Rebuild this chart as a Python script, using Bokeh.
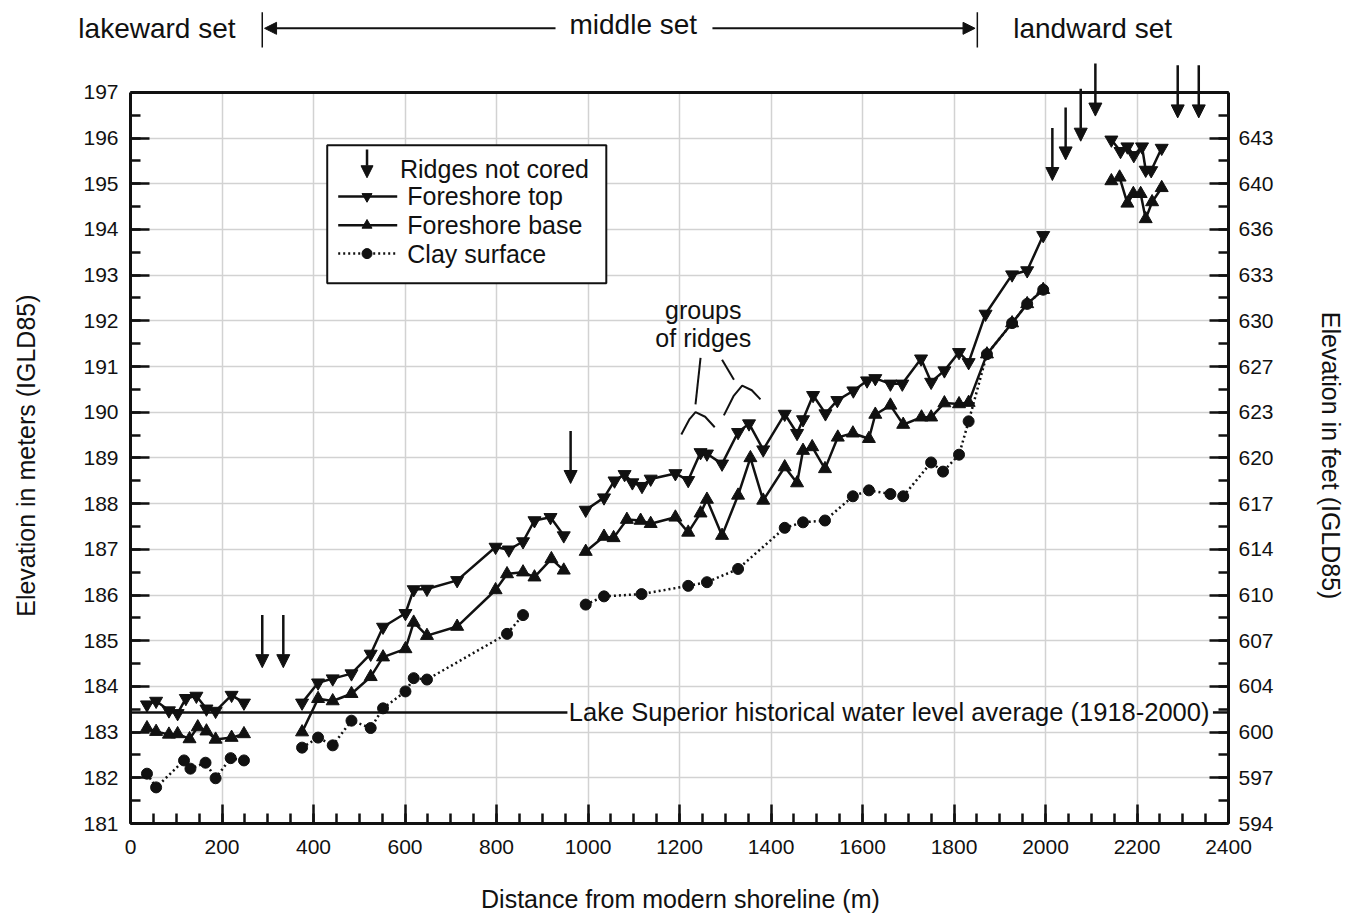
import math
from bokeh.plotting import figure
from bokeh.models import (Range1d, LinearAxis, FixedTicker, BoxAnnotation,
                          Label, Arrow, NormalHead, ColumnDataSource, Grid)
from bokeh.embed import file_html
from bokeh.resources import INLINE

NAN = float("nan")

# ---------------- data ----------------
TOP_X = [36, 56, 84, 103, 121, 144, 166, 186, 221, 248, NAN,
         375, 410, 442, 483, 525, 552, 601, 619, 648, 714, 798, 827, 858, 883, 918, 947, NAN,
         995, 1035, 1058, 1080, 1097, 1118, 1137, 1191, 1219, 1246, 1260, 1293, 1328, 1352,
         1383, 1430, 1457, 1470, 1492, 1519, 1545, 1580, 1610, 1628, 1661, 1687, 1728, 1750,
         1779, 1811, 1832, 1869, 1927, 1960, 1995, NAN,
         2144, 2164, 2179, 2193, 2211, 2219, 2231, 2254]
TOP_Y = [183.60, 183.68, 183.47, 183.41, 183.74, 183.79, 183.51, 183.46, 183.81, 183.64, NAN,
         183.64, 184.08, 184.17, 184.28, 184.71, 185.30, 185.60, 186.12, 186.13, 186.32, 187.05,
         186.99, 187.17, 187.63, 187.70, 187.30, NAN,
         187.86, 188.13, 188.50, 188.64, 188.46, 188.38, 188.54, 188.66, 188.51, 189.12, 189.09,
         188.87, 189.56, 189.75, 189.18, 189.96, 189.54, 189.84, 190.37, 189.97, 190.26, 190.47,
         190.69, 190.74, 190.62, 190.62, 191.17, 190.66, 190.91, 191.31, 191.09, 192.15, 193.01,
         193.10, 193.87, NAN,
         195.96, 195.71, 195.81, 195.62, 195.81, 195.30, 195.29, 195.78]

BASE_X = [36, 56, 84, 103, 129, 147, 166, 186, 221, 248, NAN,
          375, 410, 442, 483, 525, 552, 601, 619, 648, 714, 798, 823, 858, 883, 920, 947, NAN,
          995, 1035, 1056, 1085, 1115, 1137, 1191, 1219, 1246, 1260, 1293, 1328, 1355, 1383,
          1430, 1457, 1470, 1490, 1518, 1546, 1579, 1614, 1628, 1661, 1689, 1729, 1750, 1779,
          1811, 1832, 1872, 1927, 1960, 1995, NAN,
          2144, 2162, 2179, 2192, 2208, 2219, 2233, 2254]
BASE_Y = [183.09, 183.01, 182.95, 182.96, 182.85, 183.11, 183.02, 182.84, 182.88, 182.96, NAN,
          183.00, 183.73, 183.68, 183.84, 184.21, 184.64, 184.82, 185.40, 185.11, 185.31, 186.11,
          186.46, 186.50, 186.39, 186.79, 186.54, NAN,
          186.95, 187.28, 187.25, 187.65, 187.63, 187.56, 187.70, 187.37, 187.79, 188.09, 187.30,
          188.18, 189.00, 188.07, 188.80, 188.45, 189.16, 189.24, 188.76, 189.45, 189.54, 189.42,
          189.95, 190.15, 189.73, 189.89, 189.89, 190.20, 190.18, 190.21, 191.27, 191.95, 192.37,
          192.68, NAN,
          195.06, 195.14, 194.57, 194.78, 194.78, 194.23, 194.60, 194.91]

CLAY_X = [36, 56, 117, 131, 164, 186, 219, 248, NAN,
          375, 410, 442, 483, 525, 552, 601, 619, 648, 823, 858, NAN,
          995, 1035, 1117, 1219, 1260, 1328, 1430, 1470, 1518, 1579, 1614, 1661, 1689, 1750,
          1776, 1811, 1832, 1872, 1927, 1960, 1995]
CLAY_Y = [182.09, 181.79, 182.38, 182.20, 182.33, 181.99, 182.43, 182.38, NAN,
          182.66, 182.88, 182.71, 183.25, 183.09, 183.52, 183.89, 184.18, 184.15, 185.15, 185.56, NAN,
          185.79, 185.97, 186.02, 186.20, 186.28, 186.57, 187.47, 187.59, 187.63, 188.16, 188.29,
          188.21, 188.16, 188.90, 188.70, 189.07, 189.80, 191.27, 191.95, 192.37, 192.68]

# ridges not cored (arrow x position and arrow tip elevation)
RIDGE_X = [288, 334, 962, 2015, 2044, 2077, 2109, 2289, 2335]
RIDGE_TIP = [184.41, 184.41, 188.44, 195.07, 195.52, 195.93, 196.48, 196.44, 196.44]
ARROW_LEN = 1.15

LAKE_LEVEL = 183.43
LAKE_TEXT = "Lake Superior historical water level average (1918-2000)"

X_TICKS = list(range(0, 2401, 200))
X_MINOR = list(range(0, 2401, 50))
Y_TICKS = list(range(181, 198))
Y_MINOR = [181 + 0.5 * i for i in range(33)]
FEET_LABELS = ["594", "597", "600", "604", "607", "610", "614", "617", "620",
               "623", "627", "630", "633", "636", "640", "643", ""]

# ---------------- layout ----------------
FONT = "Liberation Sans"
INK = "#111111"
GRID = "#d2d2d2"
W, H = 1352, 915
X0, X1 = 0, 2400
Y0, Y1 = 181, 197
PX_X0, PX_X1 = 130, 1228        # canvas px of x = X0, X1
PX_Y0 = 823                     # canvas px of y = Y0
PX_PER_M = 45.7
PX_PER_X = (PX_X1 - PX_X0) / (X1 - X0)
XR = (X0 - PX_X0 / PX_PER_X, X1 + (W - PX_X1) / PX_PER_X)
YR = (Y0 - (H - PX_Y0) / PX_PER_M, Y0 + PX_Y0 / PX_PER_M)

p = figure(width=W, height=H, x_range=Range1d(*XR), y_range=Range1d(*YR),
           output_backend="svg", toolbar_location=None,
           x_axis_type=None, y_axis_type=None,
           min_border_left=0, min_border_right=0, min_border_top=0, min_border_bottom=0)
p.outline_line_color = None
p.background_fill_color = "white"
p.border_fill_color = "white"

xt = FixedTicker(ticks=X_TICKS, minor_ticks=X_MINOR)
yt = FixedTicker(ticks=Y_TICKS, minor_ticks=Y_MINOR)


def style_axis(ax, standoff):
    ax.axis_line_width = 3
    ax.axis_line_color = INK
    ax.major_tick_in = 19
    ax.major_tick_out = 0
    ax.minor_tick_in = 10
    ax.minor_tick_out = 0
    ax.major_tick_line_width = 2.5
    ax.minor_tick_line_width = 2.5
    ax.major_tick_line_color = INK
    ax.minor_tick_line_color = INK
    ax.major_label_text_font = FONT
    ax.major_label_text_font_size = "21px"
    ax.major_label_text_color = INK
    ax.major_label_standoff = standoff


xgrid = Grid(dimension=0, ticker=xt, grid_line_color=GRID, grid_line_width=1.5, bounds=(X0, X1))
ygrid = Grid(dimension=1, ticker=yt, grid_line_color=GRID, grid_line_width=1.5, bounds=(Y0, Y1))
if "cross_bounds" in Grid.properties():
    xgrid.cross_bounds = (Y0, Y1)
    ygrid.cross_bounds = (X0, X1)
p.add_layout(xgrid)
p.add_layout(ygrid)

# mask grid outside the plotting box
for kw in [dict(bottom=Y1), dict(top=Y0), dict(right=X0), dict(left=X1)]:
    p.add_layout(BoxAnnotation(**kw, fill_color="white", fill_alpha=1.0,
                               line_color=None, line_alpha=0, level="underlay"))

xaxis = LinearAxis(ticker=xt, bounds=(X0, X1), fixed_location=Y0)
style_axis(xaxis, 16)
p.add_layout(xaxis, "below")

yaxis = LinearAxis(ticker=yt, bounds=(Y0, Y1), fixed_location=X0)
style_axis(yaxis, 12)
p.add_layout(yaxis, "left")

raxis = LinearAxis(ticker=yt, bounds=(Y0, Y1), fixed_location=X1,
                   major_label_overrides={t: s for t, s in zip(Y_TICKS, FEET_LABELS)})
style_axis(raxis, 10)
p.add_layout(raxis, "right")

# frame top line
taxis = LinearAxis(ticker=FixedTicker(ticks=[]), bounds=(X0, X1), fixed_location=Y1,
                   axis_line_width=3, axis_line_color=INK, major_tick_in=0, major_tick_out=0,
                   minor_tick_in=0, minor_tick_out=0, major_label_text_alpha=0)
p.add_layout(taxis, "above")

# ---------------- series ----------------
p.line(BASE_X, BASE_Y, line_color=INK, line_width=2.5)
p.line(TOP_X, TOP_Y, line_color=INK, line_width=2.5)
p.line(CLAY_X, CLAY_Y, line_color=INK, line_width=2.5, line_dash="2 3")
p.scatter(BASE_X, BASE_Y, marker="triangle", size=13, color=INK)
p.scatter(TOP_X, TOP_Y, marker="inverted_triangle", size=13, color=INK)
p.scatter(CLAY_X, CLAY_Y, marker="circle", size=11, color=INK)

# ridges not cored
rsrc = ColumnDataSource(dict(x=RIDGE_X, y0=[t + ARROW_LEN for t in RIDGE_TIP], y1=RIDGE_TIP))
p.add_layout(Arrow(x_start="x", y_start="y0", x_end="x", y_end="y1", source=rsrc,
                   line_color=INK, line_width=2.5,
                   end=NormalHead(size=13, fill_color=INK, line_color=INK, line_width=1)))

# lake level line + text
p.line([X0, 955], [LAKE_LEVEL, LAKE_LEVEL], line_color=INK, line_width=2.5)
p.line([2366, X1], [LAKE_LEVEL, LAKE_LEVEL], line_color=INK, line_width=2.5)
p.add_layout(Label(x=958, y=LAKE_LEVEL, text=LAKE_TEXT, text_font=FONT, text_font_size="25.5px",
                   text_color=INK, text_align="left", text_baseline="middle"))

# groups of ridges annotation
p.add_layout(Label(x=1252, y=192.23, text="groups", text_font=FONT, text_font_size="25px",
                   text_color=INK, text_align="center", text_baseline="middle"))
p.add_layout(Label(x=1252, y=191.63, text="of ridges", text_font=FONT, text_font_size="25px",
                   text_color=INK, text_align="center", text_baseline="middle"))
for xs, ys in [([1204, 1222, 1235, 1256, 1277], [189.51, 189.85, 190.00, 189.90, 189.67]),
               ([1297, 1318, 1337, 1358, 1377], [189.93, 190.35, 190.58, 190.48, 190.28]),
               ([1246, 1235], [191.19, 190.17]),
               ([1293, 1319], [191.15, 190.71])]:
    p.line(xs, ys, line_color=INK, line_width=2)

# ---------------- legend (drawn) ----------------
LEG = dict(left=430, right=1040, top=195.84, bottom=192.82)
p.add_layout(BoxAnnotation(**LEG, fill_color="white", fill_alpha=1.0, line_color=INK,
                           line_alpha=1.0, line_width=2, level="underlay"))
LEG_SYM_X = 517
LEG_LINE = [454, 583]
LEG_ROWS = [195.32, 194.72, 194.09, 193.47]
p.add_layout(Arrow(x_start=LEG_SYM_X, y_start=195.75, x_end=LEG_SYM_X, y_end=195.13,
                   line_color=INK, line_width=2.5,
                   end=NormalHead(size=12, fill_color=INK, line_color=INK, line_width=1)))
p.line(LEG_LINE, [LEG_ROWS[1]] * 2, line_color=INK, line_width=2.5)
p.scatter([LEG_SYM_X], [LEG_ROWS[1]], marker="inverted_triangle", size=10, color=INK)
p.line(LEG_LINE, [LEG_ROWS[2]] * 2, line_color=INK, line_width=2.5)
p.scatter([LEG_SYM_X], [LEG_ROWS[2]], marker="triangle", size=10, color=INK)
p.line(LEG_LINE, [LEG_ROWS[3]] * 2, line_color=INK, line_width=2.5, line_dash="2 3")
p.scatter([LEG_SYM_X], [LEG_ROWS[3]], marker="circle", size=10, color=INK)
for (lx, ly, txt) in [(589, LEG_ROWS[0], "Ridges not cored"),
                      (605, LEG_ROWS[1], "Foreshore top"),
                      (605, LEG_ROWS[2], "Foreshore base"),
                      (605, LEG_ROWS[3], "Clay surface")]:
    p.add_layout(Label(x=lx, y=ly, text=txt, text_font=FONT, text_font_size="25px",
                       text_color=INK, text_align="left", text_baseline="middle"))

# ---------------- header ----------------
HEAD_Y = 198.40
p.add_layout(Label(x=-114, y=HEAD_Y, text="lakeward set", text_font=FONT, text_font_size="28px",
                   text_color=INK, text_align="left", text_baseline="middle"))
p.add_layout(Label(x=1099, y=HEAD_Y + 0.08, text="middle set", text_font=FONT, text_font_size="28px",
                   text_color=INK, text_align="center", text_baseline="middle"))
p.add_layout(Label(x=2103, y=HEAD_Y, text="landward set", text_font=FONT, text_font_size="28px",
                   text_color=INK, text_align="center", text_baseline="middle"))
for bx in [288, 1851]:
    p.line([bx, bx], [197.98, 198.75], line_color=INK, line_width=1.5)
p.add_layout(Arrow(x_start=929, y_start=HEAD_Y, x_end=293, y_end=HEAD_Y, line_color=INK,
                   line_width=2, end=NormalHead(size=12, fill_color=INK, line_color=INK, line_width=1)))
p.add_layout(Arrow(x_start=1272, y_start=HEAD_Y, x_end=1846, y_end=HEAD_Y, line_color=INK,
                   line_width=2, end=NormalHead(size=12, fill_color=INK, line_color=INK, line_width=1)))

# ---------------- axis titles ----------------
p.add_layout(Label(x=1202, y=179.34, text="Distance from modern shoreline (m)", text_font=FONT,
                   text_font_size="25px", text_color=INK, text_align="center", text_baseline="middle"))
p.add_layout(Label(x=-229, y=189.05, text="Elevation in meters (IGLD85)", text_font=FONT,
                   text_font_size="25px", text_color=INK, text_align="center", text_baseline="middle",
                   angle=math.pi / 2))
p.add_layout(Label(x=2623, y=189.05, text="Elevation in feet (IGLD85)", text_font=FONT,
                   text_font_size="25px", text_color=INK, text_align="center", text_baseline="middle",
                   angle=-math.pi / 2))

open("out.html", "w").write(file_html(p, INLINE))
